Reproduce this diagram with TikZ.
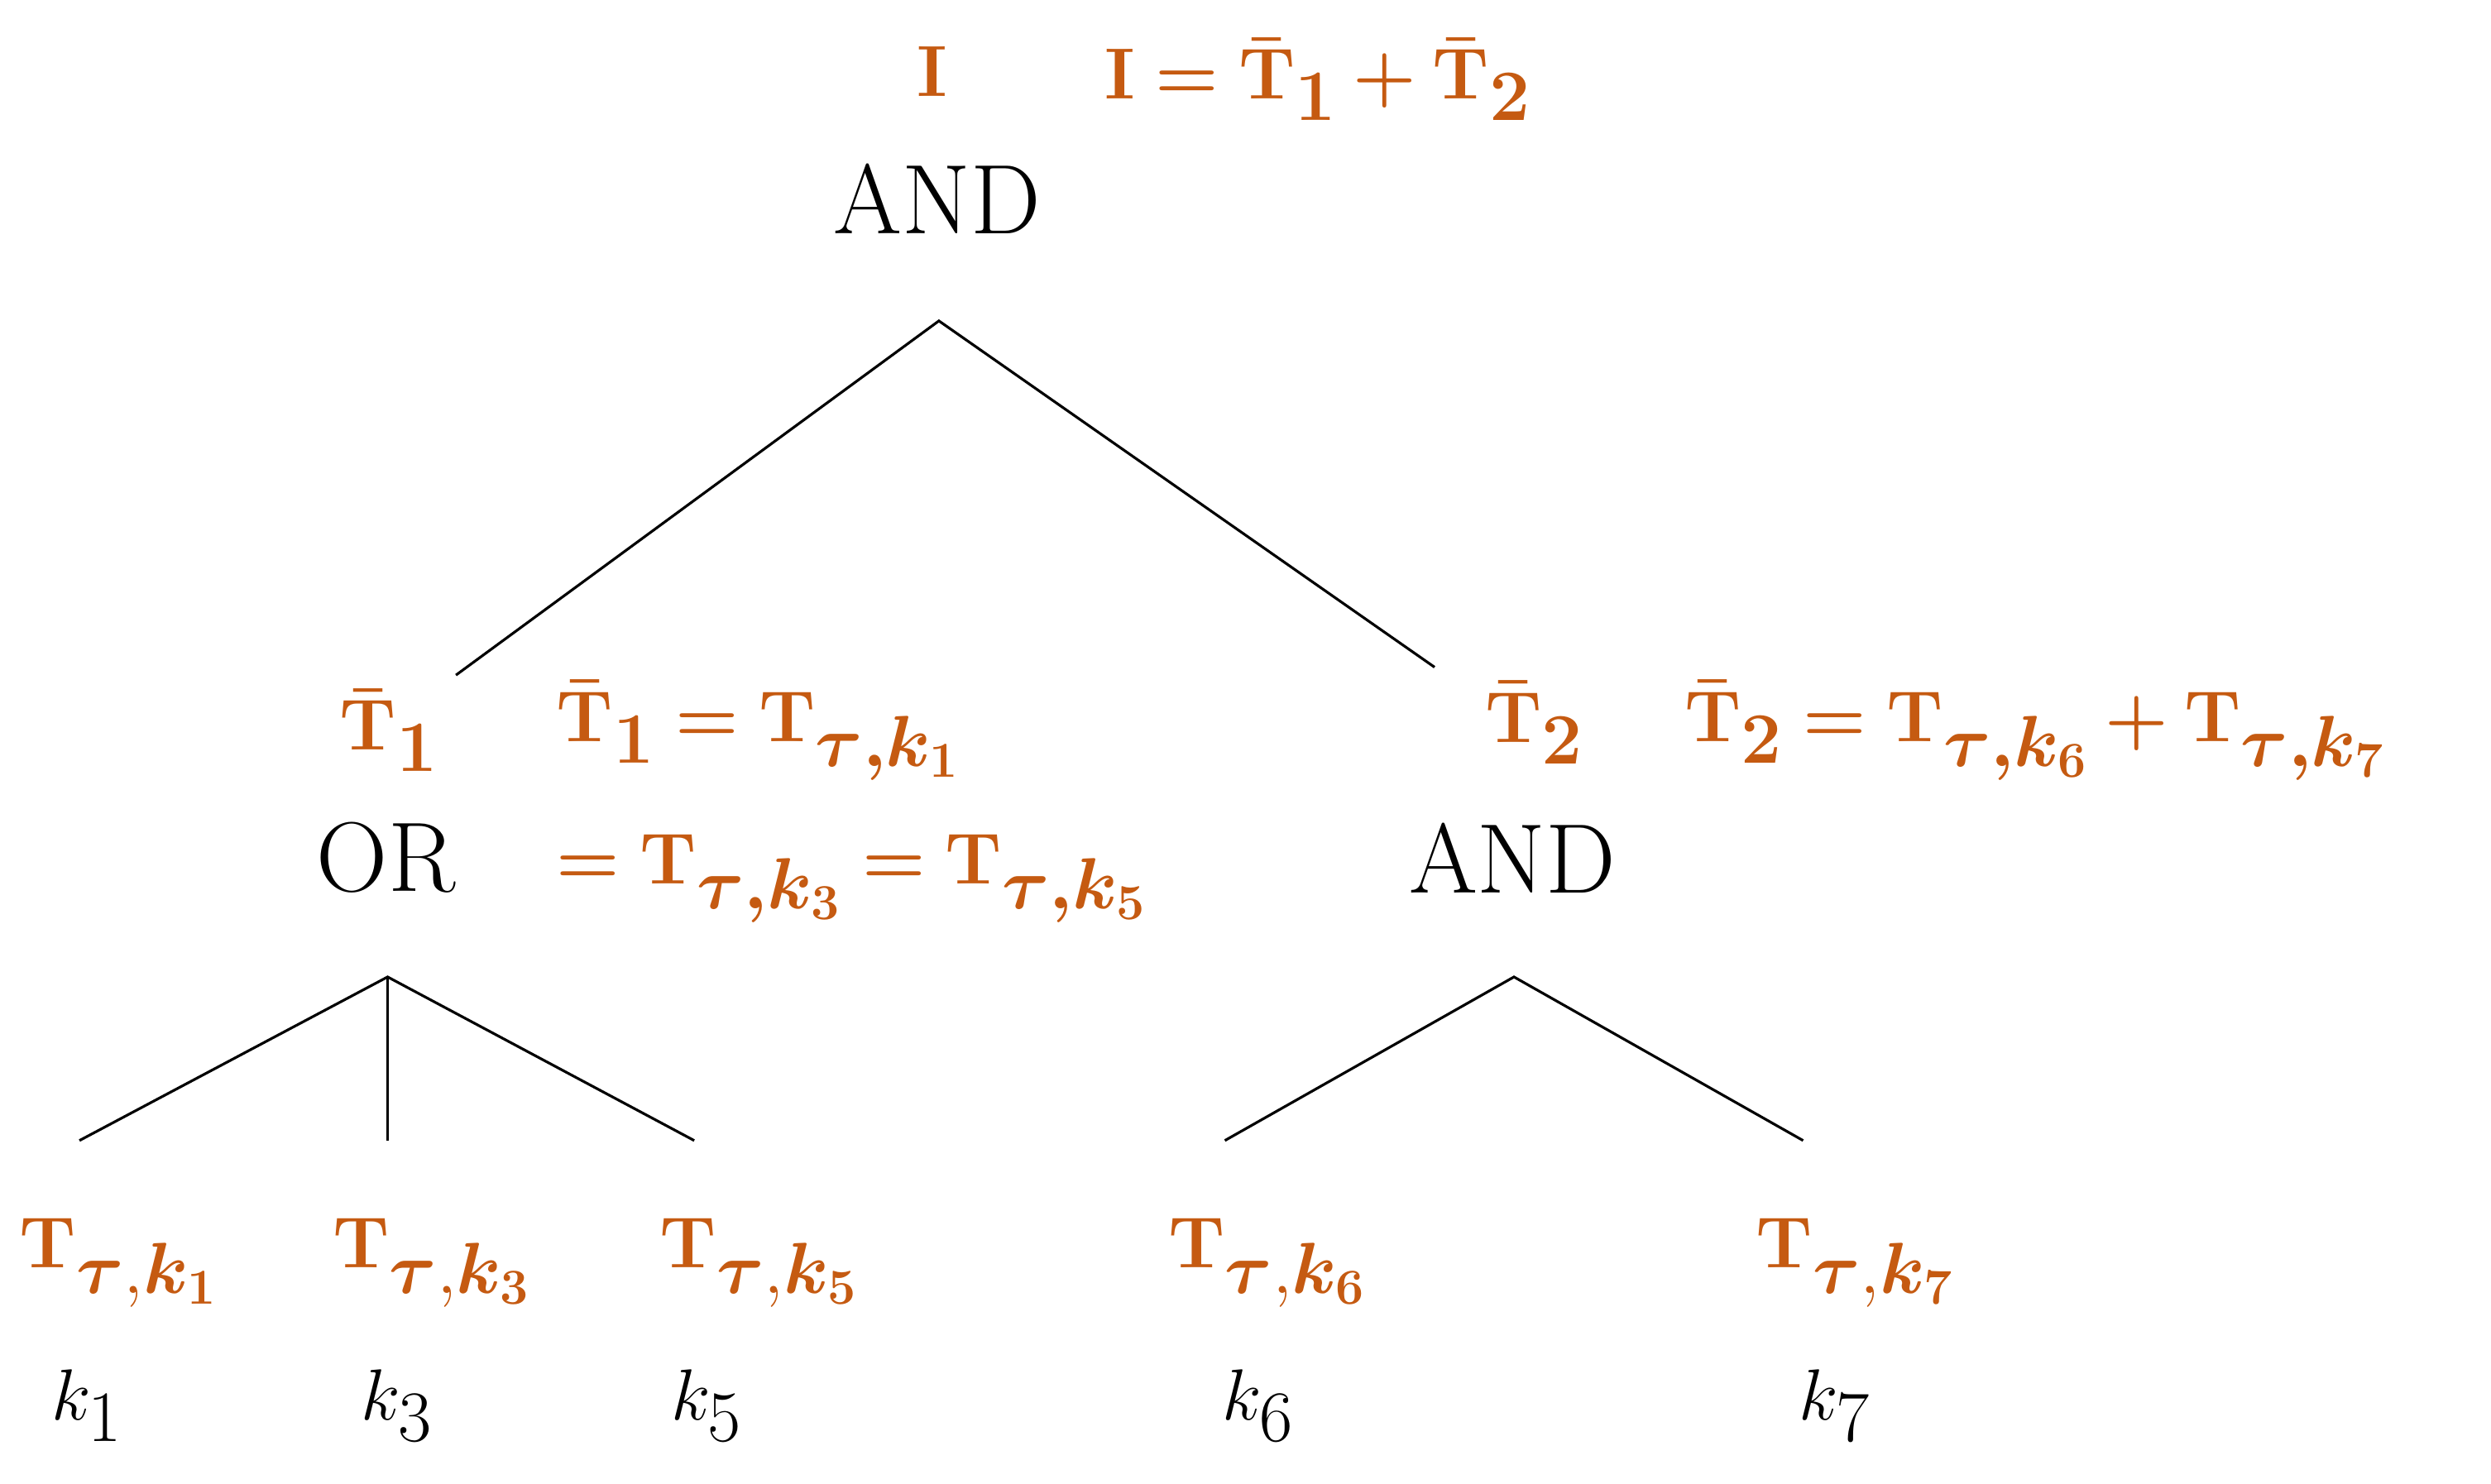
\documentclass[tikz,border=0pt]{standalone}
\usepackage{amsmath,bm}
\definecolor{org}{RGB}{197,90,17}
\newcommand{\Tb}{\bar{\mathbf{T}}}
\newcommand{\Tk}[1]{\mathbf{T}_{\bm{\tau},\bm{k_{#1}}}}
\begin{document}
\begin{tikzpicture}[x=0.0192cm,y=-0.0192cm,
  lab/.style={font=\fontsize{34}{40}\selectfont,inner sep=0pt},
  olab/.style={lab,text=org},
  edge/.style={line width=0.9pt}]
\useasboundingbox (0,0) rectangle (1568,934);
\node[olab] (I) at (587,45) {$\mathbf{I}$};
\node[olab,anchor=west] (Ieq) at (695,50) {$\bm{\mathbf{I}=\Tb_1+\Tb_2}$};
\node[lab] (and1) at (590,125) {AND};
\coordinate (r) at (591,202);
\coordinate (a1) at (287,425);
\coordinate (a2) at (903,420);
\draw[edge] (a1) -- (r) -- (a2);
\node[olab] (T1) at (245,460) {$\bm{\Tb_1}$};
\node[olab,anchor=west] (T1eq) at (350,460) {$\bm{\Tb_1=\Tk{1}}$};
\node[olab,anchor=west] (T1eq2) at (350,553) {$\bm{=\Tk{3}=\Tk{5}}$};
\node[lab] (or) at (243,540) {OR};
\node[olab] (T2) at (966,455) {$\bm{\Tb_2}$};
\node[olab,anchor=west] (T2eq) at (1060,460) {$\bm{\Tb_2=\Tk{6}+\Tk{7}}$};
\node[lab] (and2) at (952,540) {AND};
\coordinate (o) at (244,615);
\coordinate (o1) at (50,718);
\coordinate (o2) at (244,718);
\coordinate (o3) at (437,718);
\draw[edge] (o1) -- (o) -- (o3);
\draw[edge] (o) -- (o2);
\coordinate (n) at (953,615);
\coordinate (n1) at (771,718);
\coordinate (n2) at (1135,718);
\draw[edge] (n1) -- (n) -- (n2);
\foreach \x/\k/\kx in {75/1/55,272/3/250,478/5/445,798/6/792,1168/7/1155}{
  \node[olab] (T\k) at (\x,795) {$\Tk{\k}$};
  \node[lab] (k\k) at (\kx,885) {$k_{\k}$};
}
\end{tikzpicture}
\end{document}
